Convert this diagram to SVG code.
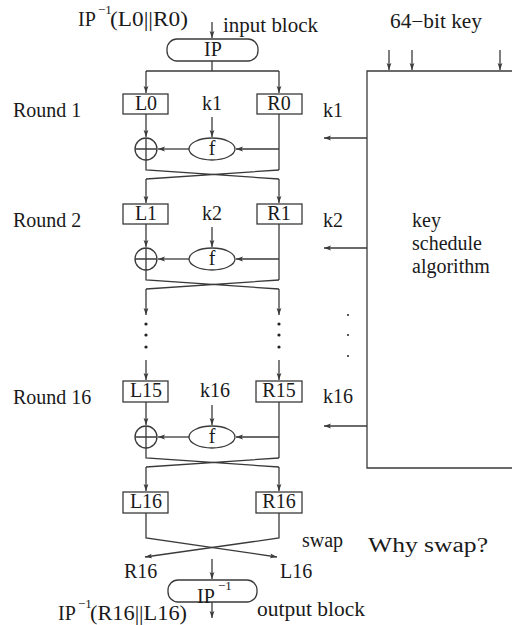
<svg xmlns="http://www.w3.org/2000/svg" width="512" height="625" viewBox="0 0 512 625">
<style>
text{font-family:"Liberation Serif","Times New Roman",serif;font-size:20px;fill:#1a1a1a}
.c{text-anchor:middle}
.sup{font-size:13px}
.ln{stroke:#3a3a3a;stroke-width:1.3;fill:none}
.ar{stroke:#3a3a3a;stroke-width:1.3;fill:none;marker-end:url(#ah)}
.bx{stroke:#3a3a3a;stroke-width:1.3;fill:#fff}
.dot{fill:#222}
</style>
<defs>
<marker id="ah" markerWidth="8" markerHeight="6" refX="7" refY="3" orient="auto" markerUnits="userSpaceOnUse">
<path d="M0,0.6 L7,3 L0,5.4 L1.5,3 z" fill="#3a3a3a"/>
</marker>
</defs>

<g id="labels">
<text x="78" y="26">IP</text>
<text class="sup" x="98" y="14">−1</text>
<text x="110" y="26" textLength="78" lengthAdjust="spacingAndGlyphs">(L0||R0)</text>
<text x="223" y="32" textLength="95" lengthAdjust="spacingAndGlyphs">input block</text>
<text x="390" y="28" textLength="92" lengthAdjust="spacingAndGlyphs">64−bit key</text>
<text x="13" y="117">Round 1</text>
<text x="13" y="227">Round 2</text>
<text x="13" y="404">Round 16</text>
<text x="323" y="117">k1</text>
<text x="323" y="227">k2</text>
<text x="323" y="403">k16</text>
<text x="302" y="547" font-size="17">swap</text>
<text x="368" y="552" font-size="26" textLength="120" lengthAdjust="spacingAndGlyphs">Why swap?</text>
<text x="124" y="578">R16</text>
<text x="280" y="578">L16</text>
<text x="58" y="620">IP</text>
<text class="sup" x="78" y="608">−1</text>
<text x="90" y="620" textLength="97" lengthAdjust="spacingAndGlyphs">(R16||L16)</text>
<text x="257" y="616" textLength="108" lengthAdjust="spacingAndGlyphs">output block</text>
</g>

<g id="ip">
<rect class="bx" x="167" y="39" width="91" height="22" rx="10"/>
<text class="c" x="213" y="56">IP</text>
</g>

<g id="ipinv">
<rect class="bx" x="168" y="580" width="89" height="22" rx="10"/>
<text x="197" y="603">IP</text>
<text class="sup" x="218" y="590">−1</text>
</g>

<g id="keysched">
<path class="ln" d="M513,71 H367 V468 H513"/>
<text x="412" y="227">key</text>
<text x="412" y="250">schedule</text>
<text x="412" y="273">algorithm</text>
<circle class="dot" cx="348" cy="315" r="1"/>
<circle class="dot" cx="348" cy="335" r="1"/>
<circle class="dot" cx="348" cy="356" r="1"/>
</g>

<g id="round1">
<rect class="bx" x="123" y="94" width="45" height="20"/>
<text class="c" x="146" y="110">L0</text>
<rect class="bx" x="257" y="94" width="45" height="20"/>
<text class="c" x="279" y="110">R0</text>
<text class="c" x="212" y="110">k1</text>
<ellipse class="bx" cx="212" cy="149" rx="23" ry="11"/>
<text class="c" x="212" y="155">f</text>
<circle class="ln" cx="146" cy="149" r="11"/>
<path class="ln" d="M135,149 H157 M146,138 V160"/>
</g>

<g id="round2">
<rect class="bx" x="123" y="204" width="45" height="20"/>
<text class="c" x="146" y="220">L1</text>
<rect class="bx" x="257" y="204" width="45" height="20"/>
<text class="c" x="279" y="220">R1</text>
<text class="c" x="212" y="220">k2</text>
<ellipse class="bx" cx="212" cy="259" rx="23" ry="11"/>
<text class="c" x="212" y="265">f</text>
<circle class="ln" cx="146" cy="259" r="11"/>
<path class="ln" d="M135,259 H157 M146,248 V270"/>
</g>

<g id="round16">
<rect class="bx" x="123" y="381" width="45" height="21"/>
<text class="c" x="146" y="397">L15</text>
<rect class="bx" x="256" y="381" width="46" height="21"/>
<text class="c" x="279" y="397">R15</text>
<text class="c" x="215" y="397">k16</text>
<ellipse class="bx" cx="212" cy="437" rx="23" ry="11"/>
<text class="c" x="212" y="443">f</text>
<circle class="ln" cx="146" cy="437" r="11"/>
<path class="ln" d="M135,437 H157 M146,426 V448"/>
</g>

<g id="final">
<rect class="bx" x="123" y="492" width="45" height="21"/>
<text class="c" x="146" y="508">L16</text>
<rect class="bx" x="256" y="492" width="46" height="21"/>
<text class="c" x="279" y="508">R16</text>
</g>

<g id="dots">
<circle class="dot" cx="146" cy="324" r="1.6"/>
<circle class="dot" cx="146" cy="335" r="1.6"/>
<circle class="dot" cx="146" cy="347" r="1.6"/>
<circle class="dot" cx="279" cy="324" r="1.6"/>
<circle class="dot" cx="279" cy="335" r="1.6"/>
<circle class="dot" cx="279" cy="347" r="1.6"/>
</g>

<g id="connectors">
<path class="ar" d="M212,22 V38"/>
<path class="ln" d="M212,61 V71 M146,71 H279"/>
<path class="ar" d="M146,71 V93"/>
<path class="ar" d="M279,71 V93"/>
<path class="ar" d="M389,50 V70"/>
<path class="ar" d="M412,50 V70"/>
<path class="ar" d="M500,50 V70"/>
<path class="ar" d="M367,138 H324"/>
<path class="ar" d="M367,248 H324"/>
<path class="ar" d="M367,426 H324"/>
<path class="ar" d="M146,114 V137"/>
<path class="ar" d="M212,117 V137"/>
<path class="ln" d="M279,114 V170"/>
<path class="ar" d="M279,149 H236"/>
<path class="ar" d="M189,149 H158"/>
<path class="ln" d="M146,160 V170 L279,179 M279,170 L146,179"/>
<path class="ar" d="M146,179 V203"/>
<path class="ar" d="M279,179 V203"/>
<path class="ar" d="M146,224 V247"/>
<path class="ar" d="M212,227 V247"/>
<path class="ln" d="M279,224 V280"/>
<path class="ar" d="M279,259 H236"/>
<path class="ar" d="M189,259 H158"/>
<path class="ln" d="M146,270 V280 L279,289 M279,280 L146,289"/>
<path class="ar" d="M146,289 V315"/>
<path class="ar" d="M279,289 V315"/>
<path class="ar" d="M146,360 V380"/>
<path class="ar" d="M279,360 V380"/>
<path class="ar" d="M146,402 V425"/>
<path class="ar" d="M212,405 V425"/>
<path class="ln" d="M279,402 V458"/>
<path class="ar" d="M279,437 H236"/>
<path class="ar" d="M189,437 H158"/>
<path class="ln" d="M146,448 V458 L279,467 M279,458 L146,467"/>
<path class="ar" d="M146,467 V491"/>
<path class="ar" d="M279,467 V491"/>
<path class="ar" d="M146,513 V538 L277,557"/>
<path class="ar" d="M279,513 V538 L145,557"/>
<path class="ar" d="M212,559 V579"/>
<path class="ar" d="M212,602 V618"/>
</g>
</svg>
